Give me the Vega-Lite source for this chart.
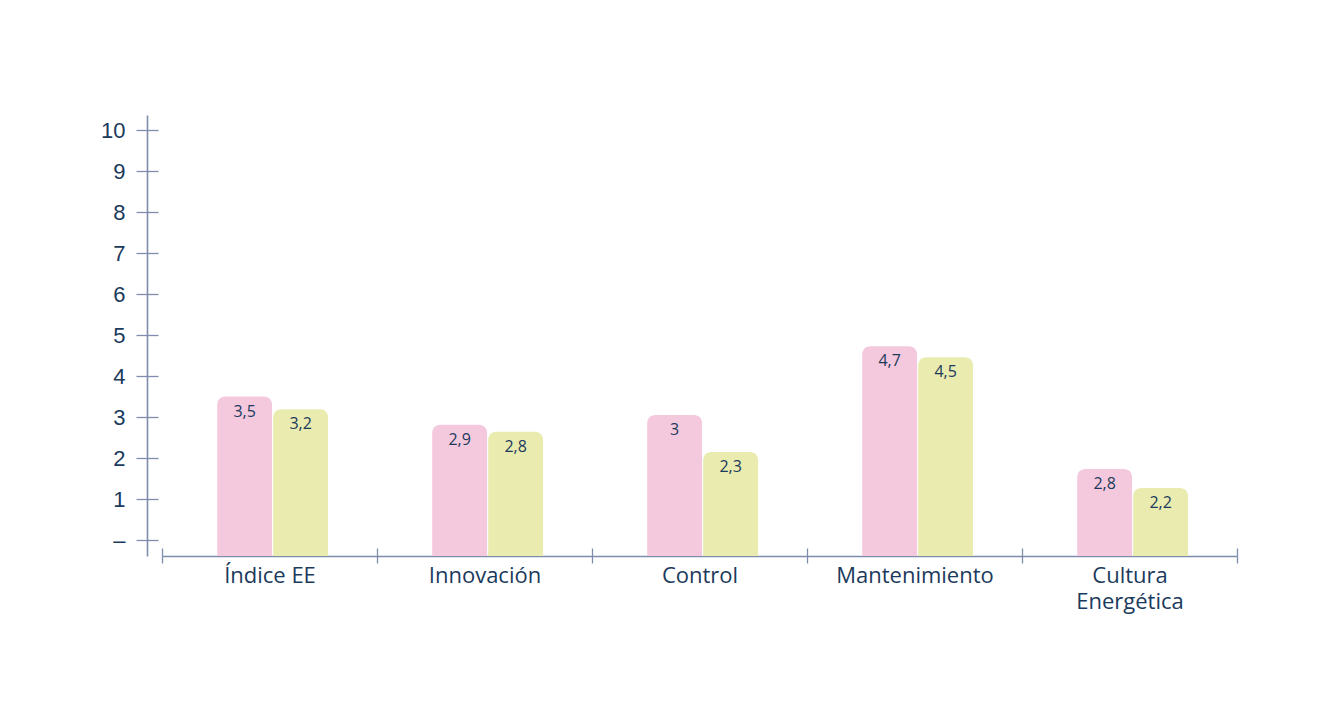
{
  "$schema": "https://vega.github.io/schema/vega-lite/v6.json",
  "width": 1075,
  "height": 441,
  "autosize": {"type": "none"},
  "padding": {"left": 162, "top": 115, "right": 89, "bottom": 164},
  "background": "white",
  "config": {
    "view": {"stroke": null},
    "font": "Open Sans",
    "axis": {"labelFont": "Open Sans", "labelColor": "#1B3A5C", "domainColor": "#7D8DAB", "tickColor": "#7D8DAB", "domainWidth": 1.6, "tickWidth": 1.3, "grid": false, "title": null}
  },
  "data": {
    "values": [
      {"categoria": "Índice EE", "serie": "A", "altura": 3.5, "valor": "3,5"},
      {"categoria": "Índice EE", "serie": "B", "altura": 3.19, "valor": "3,2"},
      {"categoria": "Innovación", "serie": "A", "altura": 2.81, "valor": "2,9"},
      {"categoria": "Innovación", "serie": "B", "altura": 2.64, "valor": "2,8"},
      {"categoria": "Control", "serie": "A", "altura": 3.05, "valor": "3"},
      {"categoria": "Control", "serie": "B", "altura": 2.15, "valor": "2,3"},
      {"categoria": "Mantenimiento", "serie": "A", "altura": 4.73, "valor": "4,7"},
      {"categoria": "Mantenimiento", "serie": "B", "altura": 4.46, "valor": "4,5"},
      {"categoria": "Cultura Energética", "serie": "A", "altura": 1.73, "valor": "2,8"},
      {"categoria": "Cultura Energética", "serie": "B", "altura": 1.27, "valor": "2,2"}
    ]
  },
  "resolve": {"axis": {"x": "independent", "y": "independent"}},
  "layer": [
    {
      "mark": {"type": "bar", "cornerRadiusTopLeft": 8, "cornerRadiusTopRight": 8},
      "encoding": {
        "x": {
          "field": "categoria", "type": "nominal", "sort": null,
          "scale": {"paddingInner": 0, "paddingOuter": 0},
          "axis": {"orient": "bottom", "tickBand": "extent", "tickSize": 7, "labelFontSize": 22, "labelPadding": 2, "labelAngle": 0, "labelBaseline": "top", "labelLineHeight": 26, "labelExpr": "datum.value == 'Cultura Energética' ? ['Cultura', 'Energética'] : datum.label"}
        },
        "xOffset": {"field": "serie", "type": "nominal", "scale": {"paddingInner": 0.02, "paddingOuter": 0.93, "align": 0.53}},
        "y": {
          "field": "altura", "type": "quantitative",
          "scale": {"domain": [-0.39, 10.37], "nice": false, "zero": false},
          "axis": {"orient": "left", "offset": 15, "values": [0,1,2,3,4,5,6,7,8,9,10], "tickSize": 11, "labelFont": "Liberation Sans", "labelFontSize": 22, "labelPadding": 11, "labelExpr": "datum.value == 0 ? '–' : datum.label"}
        },
        "y2": {"datum": -0.39},
        "color": {"field": "serie", "type": "nominal", "legend": null, "scale": {"domain": ["A", "B"], "range": ["#F5C9DD", "#E9EBAF"]}}
      }
    },
    {
      "mark": {"type": "text", "dy": 15, "baseline": "middle", "align": "center", "fontSize": 16, "color": "#1B3A5C", "font": "Open Sans"},
      "encoding": {
        "x": {"field": "categoria", "type": "nominal", "sort": null, "axis": {"orient": "bottom", "tickBand": "extent", "tickSize": -8, "labels": false, "domain": false}},
        "xOffset": {"field": "serie", "type": "nominal"},
        "y": {"field": "altura", "type": "quantitative", "axis": {"orient": "left", "offset": 15, "values": [0,1,2,3,4,5,6,7,8,9,10], "tickSize": -11, "labels": false, "domain": false}},
        "text": {"field": "valor"}
      }
    }
  ]
}
